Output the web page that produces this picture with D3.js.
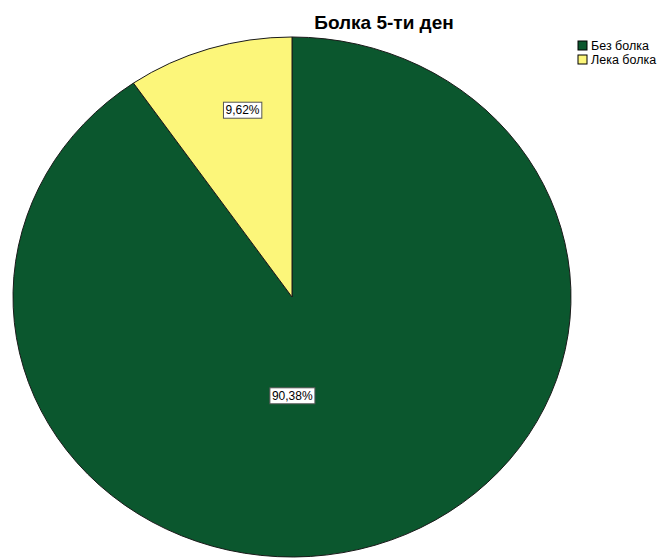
<!DOCTYPE html>
<html>
<head>
<meta charset="utf-8">
<script src="https://cdn.jsdelivr.net/npm/d3@7"></script>
<style>
  body { margin: 0; background: white; }
</style>
</head>
<body>
<div id="chart"></div>
<script>
// data
var categories = ["Без болка", "Лека болка"];
var percents = [90.38, 9.62];
var labels = ["90,38%", "9,62%"];
var colors = ["#0b572e", "#fcf67a"];

var width = 663, height = 558;
var cx = 292, cy = 297;
var rx = 279, ry = 260;

var svg = d3.select("#chart")
  .append("svg")
  .attr("width", width)
  .attr("height", height)
  .style("font-family", "Liberation Sans, Arial, sans-serif");

// title
svg.append("text")
  .attr("x", 384)
  .attr("y", 29)
  .style("font-size", "19px")
  .style("font-weight", "bold")
  .style("text-anchor", "middle")
  .style("fill", "#000")
  .text("Болка 5-ти ден");

// pie, green starts at 12 o'clock going clockwise, yellow fills the rest
var pie = d3.pie().sort(null).value(function(d) { return d; });
var arcs = pie(percents);

var arc = d3.arc().innerRadius(0).outerRadius(rx);

var pieG = svg.append("g")
  .attr("transform", "translate(" + cx + "," + cy + ") scale(1," + (ry / rx) + ")");

pieG.selectAll("path")
  .data(arcs)
  .enter()
  .append("path")
  .attr("d", arc)
  .style("fill", function(d, i) { return colors[i]; })
  .style("stroke", "#1a1a1a")
  .style("stroke-width", 1)
  .attr("vector-effect", "non-scaling-stroke");

// labels
var labelRadius = [0.38, 0.74];
var labelShift = [0.30, 0.06];

arcs.forEach(function(d, i) {
  var a = (d.startAngle + d.endAngle) / 2 + labelShift[i];
  var x = cx + Math.sin(a) * rx * labelRadius[i];
  var y = cy - Math.cos(a) * ry * labelRadius[i];

  var g = svg.append("g").attr("transform", "translate(" + x + "," + y + ")");
  var t = g.append("text")
    .attr("y", 4)
    .style("font-size", "12px")
    .style("text-anchor", "middle")
    .style("fill", "#000")
    .text(labels[i]);
  var bb = t.node().getBBox();
  g.insert("rect", "text")
    .attr("x", bb.x - 2)
    .attr("y", bb.y - 1)
    .attr("width", bb.width + 4)
    .attr("height", bb.height + 2)
    .style("fill", "white")
    .style("stroke", "#555")
    .style("stroke-width", 1);
});

// legend
var legend = svg.append("g").attr("transform", "translate(578,41)");

var rows = legend.selectAll("g")
  .data(categories)
  .enter()
  .append("g")
  .attr("transform", function(d, i) { return "translate(0," + (i * 14) + ")"; });

rows.append("rect")
  .attr("width", 9)
  .attr("height", 9)
  .style("fill", function(d, i) { return colors[i]; })
  .style("stroke", "#000")
  .style("stroke-width", 1);

rows.append("text")
  .attr("x", 13)
  .attr("y", 9)
  .style("font-size", "12.5px")
  .style("fill", "#000")
  .text(function(d) { return d; });
</script>
</body>
</html>
